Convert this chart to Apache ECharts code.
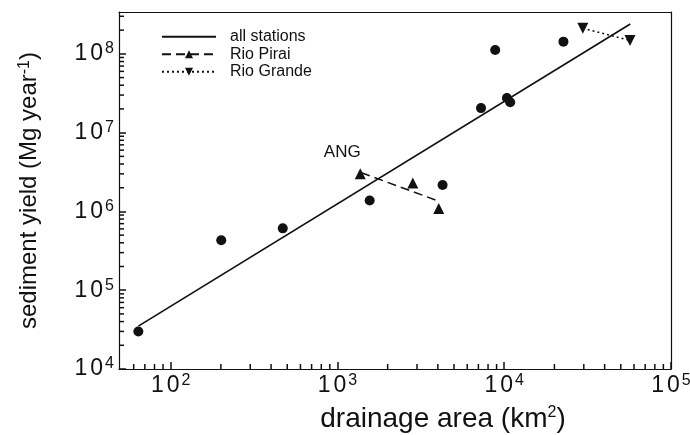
<!DOCTYPE html>
<html>
<head>
<meta charset="utf-8">
<script src="https://cdn.jsdelivr.net/npm/echarts@6/dist/echarts.min.js"></script>
<style>
html, body { margin: 0; padding: 0; background: #fff; }
#chart { width: 690px; height: 435px; }
</style>
</head>
<body>
<div id="chart"></div>
<script>
// drainage area (km2) vs sediment yield (Mg/yr)
const stationArea = [64, 201, 470, 1560, 4270, 7260, 8830, 10380, 10860, 22650];
const stationYield = [3.0e4, 4.3e5, 6.1e5, 1.38e6, 2.16e6, 2.05e7, 1.12e8, 2.75e7, 2.43e7, 1.43e8];
const piraiArea = [1370, 2830, 4050];
const piraiYield = [3.0e6, 2.3e6, 1.09e6];
const piraiFitArea = [1390, 4050];
const piraiFitYield = [3.1e6, 1.35e6];
const grandeArea = [29600, 56800];
const grandeYield = [2.12e8, 1.48e8];
const fitArea = [64, 57000];
const fitYield = [3.5e4, 2.4e8];

const xMin = 49, xMax = 1e5;
const yMin = 1e4, yMax = 3.4e8;
const xMinorTicks = [60, 70, 80, 90, 200, 300, 400, 500, 600, 700, 800, 900,
  2000, 3000, 4000, 5000, 6000, 7000, 8000, 9000,
  20000, 30000, 40000, 50000, 60000, 70000, 80000, 90000];
const yMinorTicks = [2e4, 3e4, 4e4, 5e4, 6e4, 7e4, 8e4, 9e4,
  2e5, 3e5, 4e5, 5e5, 6e5, 7e5, 8e5, 9e5,
  2e6, 3e6, 4e6, 5e6, 6e6, 7e6, 8e6, 9e6,
  2e7, 3e7, 4e7, 5e7, 6e7, 7e7, 8e7, 9e7,
  2e8, 3e8];

const font = "'Liberation Sans', Arial, Helvetica, sans-serif";
const black = '#111';

const zip = (a, b) => a.map((v, i) => [v, b[i]]);

function powLabel(v) {
  const e = Math.log10(v);
  const r = Math.round(e);
  if (Math.abs(e - r) > 1e-6) return '';
  return '{one|1}{zero|0}{sup|' + r + '}';
}

const labelRich = {
  one: { fontSize: 23, fontFamily: font, color: black, lineHeight: 26, padding: [0, 3, 0, 0] },
  zero: { fontSize: 23, fontFamily: font, color: black, lineHeight: 26, padding: [0, 2, 0, 0] },
  sup: { fontSize: 16, fontFamily: font, color: black, verticalAlign: 'top', lineHeight: 16 }
};
const nameSup = { fontSize: 16, fontFamily: font, color: black, verticalAlign: 'top', lineHeight: 16 };

// minor ticks drawn as thin marks on the axes
function minorTicks(data, dir) {
  return {
    type: 'scatter',
    silent: true,
    clip: false,
    z: 10,
    data: data,
    symbol: 'rect',
    symbolSize: dir === 'x' ? [1.5, 5] : [5, 1.5],
    symbolOffset: dir === 'x' ? [0, -2.5] : [2.5, 0],
    itemStyle: { color: black, opacity: 1 }
  };
}

const frameAxis = {
  type: 'log',
  logBase: 10,
  axisLine: { show: true, onZero: false, lineStyle: { color: black, width: 1.2 } },
  axisTick: { show: false },
  axisLabel: { show: false },
  splitLine: { show: false }
};

const chart = echarts.init(document.getElementById('chart'), null, { renderer: 'canvas' });

const piraiData = zip(piraiArea, piraiYield).map((d, i) => {
  if (i !== 0) return d;
  return {
    value: d,
    label: {
      show: true, formatter: 'ANG', position: 'top', offset: [-18, -3],
      fontFamily: font, fontSize: 17, color: black
    }
  };
});

const option = {
  backgroundColor: '#fff',
  animation: false,
  textStyle: { fontFamily: font },
  grid: {
    left: 119, right: 19, top: 12, bottom: 66, show: false,
    containLabel: false, outerBoundsMode: 'none'
  },
  legend: {
    data: [
      { name: 'all stations', itemStyle: { opacity: 0 } },
      'Rio Pirai',
      'Rio Grande'
    ],
    orient: 'vertical',
    left: 156,
    top: 23,
    itemWidth: 54,
    itemHeight: 10,
    itemGap: 0,
    selectedMode: false,
    textStyle: { fontFamily: font, fontSize: 16, color: black, lineHeight: 17.5, padding: [0, 0, 0, 9] }
  },
  xAxis: [{
    type: 'log',
    logBase: 10,
    min: xMin,
    max: xMax,
    position: 'bottom',
    name: 'drainage area (km{sup|2})',
    nameLocation: 'middle',
    nameGap: 36,
    nameTextStyle: {
      fontFamily: font, fontSize: 28, color: black, padding: [0, 0, 0, 96],
      rich: { sup: nameSup }
    },
    axisLine: { show: true, onZero: false, lineStyle: { color: black, width: 1.2 } },
    axisTick: { show: true, inside: true, length: 7, lineStyle: { color: black, width: 1.5 } },
    splitLine: { show: false },
    minorTick: { show: false },
    axisLabel: {
      show: true, formatter: powLabel, fontFamily: font, fontSize: 23, color: black,
      margin: 4, showMinLabel: false, showMaxLabel: true, rich: labelRich
    }
  }, Object.assign({}, frameAxis, { min: xMin, max: xMax, position: 'top' })],
  yAxis: [{
    type: 'log',
    logBase: 10,
    min: yMin,
    max: yMax,
    position: 'left',
    name: 'sediment yield (Mg year{sup|-1})',
    nameLocation: 'middle',
    nameRotate: 90,
    nameGap: 78,
    nameTextStyle: {
      fontFamily: font, fontSize: 24, color: black,
      rich: { sup: nameSup }
    },
    axisLine: { show: true, onZero: false, lineStyle: { color: black, width: 1.2 } },
    axisTick: { show: true, inside: true, length: 7, lineStyle: { color: black, width: 1.5 } },
    splitLine: { show: false },
    minorTick: { show: false },
    axisLabel: {
      show: true, formatter: powLabel, fontFamily: font, fontSize: 23, color: black,
      margin: 5, showMinLabel: true, showMaxLabel: false, rich: labelRich
    }
  }, Object.assign({}, frameAxis, { min: yMin, max: yMax, position: 'right' })],
  series: [
    {
      name: 'all stations',
      type: 'line',
      data: zip(fitArea, fitYield),
      showSymbol: false,
      symbol: 'none',
      lineStyle: { color: black, width: 1.7 },
      itemStyle: { color: black },
      z: 3
    },
    {
      // dashed trend through the Rio Pirai stations
      name: 'Rio Pirai',
      type: 'line',
      data: zip(piraiFitArea, piraiFitYield),
      symbol: 'triangle',
      symbolSize: 11,
      showSymbol: false,
      lineStyle: { color: black, width: 1.5, type: [9, 5] },
      itemStyle: { color: black },
      z: 4
    },
    {
      name: 'Rio Pirai',
      type: 'scatter',
      data: piraiData,
      symbol: 'triangle',
      symbolSize: 11,
      itemStyle: { color: black, opacity: 1 },
      z: 4
    },
    {
      name: 'Rio Grande',
      type: 'line',
      data: zip(grandeArea, grandeYield),
      symbol: 'triangle',
      symbolRotate: 180,
      symbolSize: 11,
      lineStyle: { color: black, width: 1.5, type: [2, 3] },
      itemStyle: { color: black },
      z: 4
    },
    {
      name: 'stations',
      type: 'scatter',
      data: zip(stationArea, stationYield),
      symbol: 'circle',
      symbolSize: 10,
      itemStyle: { color: black, opacity: 1 },
      z: 4
    },
    minorTicks(xMinorTicks.map(v => [v, yMin]), 'x'),
    minorTicks(yMinorTicks.map(v => [xMin, v]), 'y')
  ]
};

chart.setOption(option);
</script>
</body>
</html>
